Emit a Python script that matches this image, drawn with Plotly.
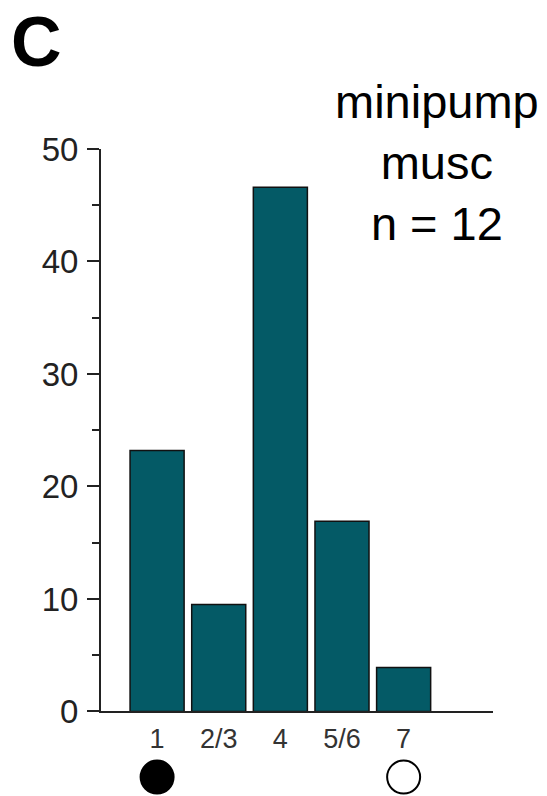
import plotly.graph_objects as go

# Distribution of cases across stages
stages = ["1", "2/3", "4", "5/6", "7"]
percent = [23.2, 9.5, 46.6, 16.9, 3.9]

# Stage symbols shown beneath the axis
symbol_stages = ["1", "7"]
symbol_kinds = ["circle", "circle-open"]
symbol_level = [0.14, 0.14]

FONT = "Liberation Sans, Arial, Helvetica, sans-serif"
BAR_COLOR = "#045a66"

fig = go.Figure()

fig.add_trace(go.Bar(
    x=stages,
    y=percent,
    width=0.877,
    marker=dict(color=BAR_COLOR, line=dict(color="#111111", width=1.5)),
    showlegend=False,
    hoverinfo="x+y",
))

# symbols live on a small secondary y axis strip below the tick labels
fig.add_trace(go.Scatter(
    x=symbol_stages,
    y=symbol_level,
    yaxis="y2",
    mode="markers",
    marker=dict(symbol=symbol_kinds, size=33, color="#000000",
                line=dict(color="#000000", width=2)),
    cliponaxis=False,
    showlegend=False,
    hoverinfo="skip",
))

fig.update_layout(
    width=547,
    height=796,
    margin=dict(l=101, r=54, t=149, b=10),
    paper_bgcolor="white",
    plot_bgcolor="rgba(0,0,0,0)",
    font=dict(family=FONT, color="#222222"),
    xaxis=dict(
        type="category",
        range=[-0.91, 5.45],
        anchor="y",
        automargin=False,
        showline=True,
        linecolor="#222222",
        linewidth=2,
        ticks="",
        showgrid=False,
        zeroline=False,
        tickfont=dict(size=27, color="#333333"),
        ticklabelstandoff=2,
    ),
    yaxis=dict(
        domain=[0.117, 1.0],
        range=[0, 50],
        tickvals=[0, 10, 20, 30, 40, 50],
        automargin=False,
        showline=True,
        linecolor="#222222",
        linewidth=2,
        ticks="outside",
        ticklen=12,
        tickwidth=2,
        tickcolor="#222222",
        showgrid=False,
        zeroline=False,
        tickfont=dict(size=33, color="#222222"),
        ticklabelstandoff=2,
        minor=dict(tickvals=[5, 15, 25, 35, 45], ticks="outside",
                   ticklen=7, tickwidth=2, tickcolor="#222222"),
    ),
    yaxis2=dict(
        domain=[0.0, 0.1],
        range=[0, 1],
        anchor="x",
        automargin=False,
        visible=False,
        fixedrange=True,
    ),
    annotations=[
        dict(
            text="<b>C</b>",
            xref="paper", yref="paper",
            x=-0.235, y=1.233,
            xanchor="left", yanchor="top",
            showarrow=False,
            font=dict(size=70, family=FONT, color="#000000"),
        ),
        dict(
            text="minipump<br>musc<br>n = 12",
            xref="paper", yref="paper",
            x=0.857, y=1.12,
            xanchor="center", yanchor="top",
            align="center",
            showarrow=False,
            font=dict(size=47, family=FONT, color="#000000"),
        ),
    ],
)

fig.write_html("out.html")
